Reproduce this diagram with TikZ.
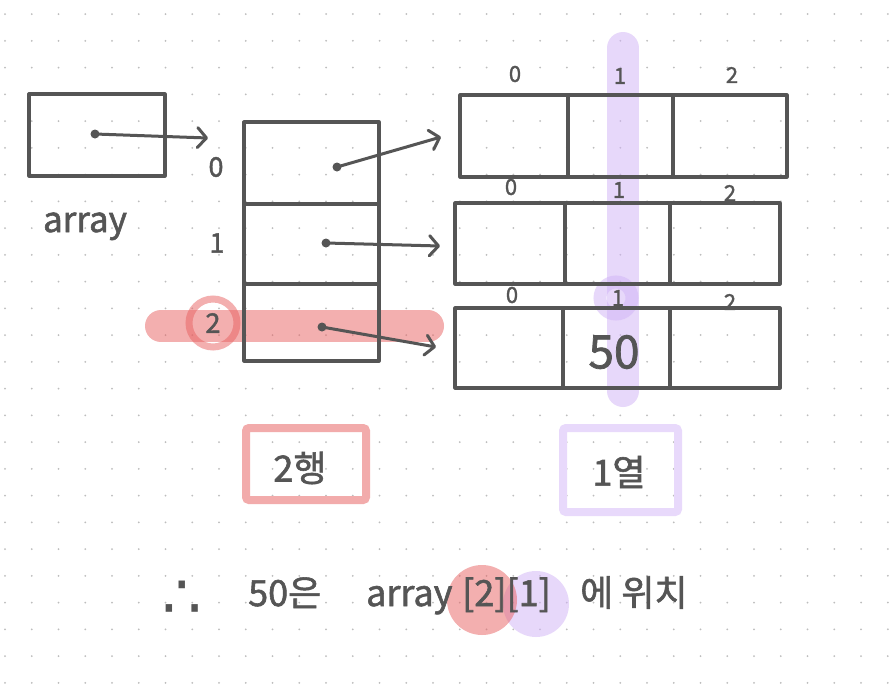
\documentclass[tikz,border=0pt]{standalone}
\usepackage{fontspec}
\setmainfont{Noto Sans CJK KR}[FakeBold=1.6]
\newfontfamily\symfont{DejaVu Sans}
\usetikzlibrary{arrows.meta}
\definecolor{ink}{HTML}{555555}
\definecolor{hlred}{HTML}{E86060}
\definecolor{hlpur}{HTML}{D1B3F7}
\definecolor{boxred}{HTML}{F2ABAB}
\definecolor{boxpur}{HTML}{E8D9FB}
\definecolor{griddot}{HTML}{BDBDBD}
\tikzset{
  cell/.style={draw=ink, line width=3.2pt, inner sep=0pt, outer sep=0pt, line join=round},
  ptr/.style={draw=ink, line width=3pt, line cap=round, -{Straight Barb[length=9pt,width=20pt,round]}},
  ptrdot/.style={fill=ink},
  idx/.style={text=ink, font=\fontsize{27}{30}\selectfont, inner sep=0pt},
  colidx/.style={text=ink, font=\fontsize{22}{25}\selectfont, inner sep=0pt},
  val/.style={text=ink, font=\fontsize{46}{50}\selectfont, inner sep=0pt},
  tag/.style={text=ink, font=\fontsize{36}{40}\selectfont, inner sep=0pt},
  btm/.style={text=ink, font=\fontsize{36}{40}\selectfont, inner sep=0pt},
  redhl/.style={draw=hlred, draw opacity=0.5},
  purhl/.style={draw=hlpur, draw opacity=0.5},
}
\begin{document}
\begin{tikzpicture}[x=1pt,y=-1pt]
\useasboundingbox (0,0) rectangle (894,686);
\fill[white] (0,0) rectangle (894,686);
% dot grid
\foreach \i in {0,...,33}{\foreach \j in {0,...,25}{\fill[griddot] ({5+26.75*\i},{14+26.75*\j}) circle (1pt);}}

% highlights
\draw[redhl, line width=32pt, line cap=round] (161,326) -- (428,326);
\draw[purhl, line width=32pt, line cap=round] (623,48) -- (623,391);
\draw[redhl, line width=7pt] (213,323) circle (24pt);
\draw[purhl, line width=13pt] (616,298) circle (16pt);

% array variable
\node[cell, minimum width=136pt, minimum height=82pt] (arr) at (97,135) {};
\node[text=ink, font=\fontsize{35}{38}\selectfont, inner sep=0pt, anchor=base] (arrlbl) at (85,232) {array};

% middle column (row references)
\node[cell, minimum width=135pt, minimum height=82pt] (m0) at (311.5,163) {};
\node[cell, minimum width=135pt, minimum height=80pt] (m1) at (311.5,244) {};
\node[cell, minimum width=135pt, minimum height=77pt] (m2) at (311.5,322.5) {};
\node[idx] (i0) at (216,167) {0};
\node[idx] (i1) at (217,243) {1};
\node[idx] (i2) at (213,323) {2};

% row 0
\node[cell, minimum width=108pt, minimum height=82pt] (r00) at (514,136) {};
\node[cell, minimum width=105pt, minimum height=82pt] (r01) at (620.5,136) {};
\node[cell, minimum width=114pt, minimum height=82pt] (r02) at (730,136) {};
% row 1
\node[cell, minimum width=110pt, minimum height=81pt] (r10) at (510,243.5) {};
\node[cell, minimum width=105pt, minimum height=81pt] (r11) at (617.5,243.5) {};
\node[cell, minimum width=110pt, minimum height=81pt] (r12) at (725,243.5) {};
% row 2
\node[cell, minimum width=108pt, minimum height=80pt] (r20) at (509,348) {};
\node[cell, minimum width=107pt, minimum height=80pt] (r21) at (616.5,348) {};
\node[cell, minimum width=110pt, minimum height=80pt] (r22) at (725,348) {};

% column indices
\node[colidx] (c00) at (515,74) {0};
\node[colidx] (c01) at (620,76) {1};
\node[colidx] (c02) at (732,75) {2};
\node[colidx] (c10) at (511,187) {0};
\node[colidx] (c11) at (619,190) {1};
\node[colidx] (c12) at (730,193) {2};
\node[colidx] (c20) at (512,295) {0};
\node[colidx] (c21) at (618,298) {1};
\node[colidx] (c22) at (730,302) {2};

\node[val] (v) at (614,352) {50};

% pointers
\coordinate (pa) at (95,134);   \coordinate (ta) at (208,138);
\coordinate (p0) at (337,167);  \coordinate (t0) at (441,137);
\coordinate (p1) at (326,243);  \coordinate (t1) at (440,246);
\coordinate (p2) at (322,327);  \coordinate (t2) at (436,347);
\fill[ptrdot] (pa) circle (4.5pt);
\fill[ptrdot] (p0) circle (4.5pt);
\fill[ptrdot] (p1) circle (4.5pt);
\fill[ptrdot] (p2) circle (4.5pt);
\draw[ptr] (pa) -- (ta);
\draw[ptr] (p0) -- (t0);
\draw[ptr] (p1) -- (t1);
\draw[ptr] (p2) -- (t2);

% tags
\draw[boxred, line width=8pt, rounded corners=3pt] (246,428) rectangle (366,500);
\node[tag] (rowtag) at (300,468) {2행};
\draw[boxpur, line width=8pt, rounded corners=3pt] (563,428) rectangle (678,512);
\node[tag] (coltag) at (619,472) {1열};

% conclusion
\fill[hlpur, opacity=0.5] (536,604) circle (33pt);
\fill[hlred, opacity=0.5] (482,600) circle (35pt);
\node[text=ink, font=\symfont\fontsize{62}{66}\selectfont, inner sep=0pt, anchor=base] (therefore) at (182,618) {∴};
\node[btm, anchor=base west] (fifty) at (248,606) {50은};
\node[btm, anchor=base west] (arr2) at (366,606) {array};
\node[btm, anchor=base west] (idxs) at (462,606) {[2][1]};
\node[btm, anchor=base west] (loc) at (580,606) {에 위치};
\end{tikzpicture}
\end{document}
